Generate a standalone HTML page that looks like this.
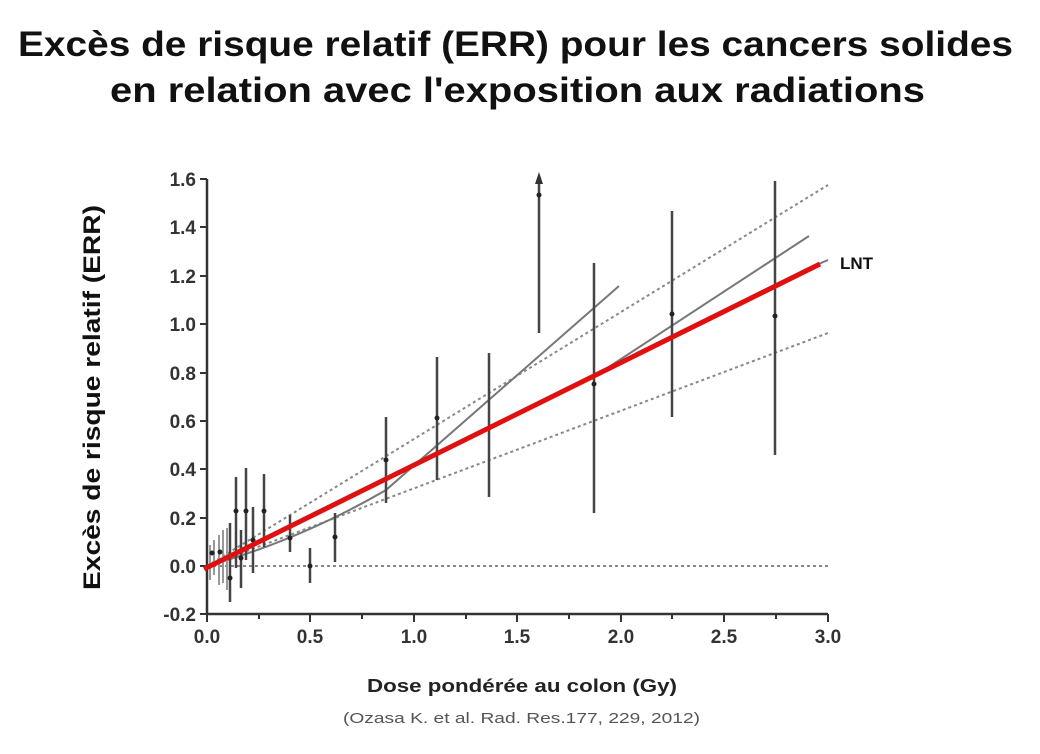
<!DOCTYPE html>
<html><head><meta charset="utf-8"><style>
body{margin:0;background:#fff;}
svg{display:block;font-family:"Liberation Sans",Arial,sans-serif;}
</style></head><body>
<svg width="1040" height="754" viewBox="0 0 1040 754">
<rect width="1040" height="754" fill="#fff"/>
<text x="18" y="56" textLength="995" lengthAdjust="spacingAndGlyphs" font-size="35" font-weight="bold" fill="#111">Excès de risque relatif (ERR) pour les cancers solides</text>
<text x="110" y="102" textLength="815" lengthAdjust="spacingAndGlyphs" font-size="35" font-weight="bold" fill="#111">en relation avec l'exposition aux radiations</text>
<text transform="translate(100,590) rotate(-90)" textLength="385" lengthAdjust="spacingAndGlyphs" font-size="24" font-weight="bold" fill="#111">Excès de risque relatif (ERR)</text>
<text x="367" y="692" textLength="310" lengthAdjust="spacingAndGlyphs" font-size="18" font-weight="bold" fill="#222">Dose pondérée au colon (Gy)</text>
<text x="343" y="723" textLength="357" lengthAdjust="spacingAndGlyphs" font-size="15" fill="#555">(Ozasa K. et al. Rad. Res.177, 229, 2012)</text>
<g stroke="#333" stroke-width="2.5" fill="none">
<line x1="207" y1="179" x2="207" y2="614"/>
<line x1="206" y1="614" x2="828" y2="614"/>
</g>
<g stroke="#333" stroke-width="2">
<line x1="200" y1="179" x2="207" y2="179"/><line x1="200" y1="227" x2="207" y2="227"/><line x1="200" y1="276" x2="207" y2="276"/><line x1="200" y1="324" x2="207" y2="324"/><line x1="200" y1="373" x2="207" y2="373"/><line x1="200" y1="421" x2="207" y2="421"/><line x1="200" y1="469" x2="207" y2="469"/><line x1="200" y1="518" x2="207" y2="518"/><line x1="200" y1="566" x2="207" y2="566"/><line x1="200" y1="614" x2="207" y2="614"/>
<line x1="207" y1="614" x2="207" y2="622"/><line x1="310" y1="614" x2="310" y2="622"/><line x1="414" y1="614" x2="414" y2="622"/><line x1="517" y1="614" x2="517" y2="622"/><line x1="621" y1="614" x2="621" y2="622"/><line x1="724" y1="614" x2="724" y2="622"/><line x1="828" y1="614" x2="828" y2="622"/>
<line x1="259" y1="614" x2="259" y2="619"/><line x1="362" y1="614" x2="362" y2="619"/><line x1="466" y1="614" x2="466" y2="619"/><line x1="569" y1="614" x2="569" y2="619"/><line x1="672" y1="614" x2="672" y2="619"/><line x1="776" y1="614" x2="776" y2="619"/>
</g>
<g font-size="19" font-weight="bold" fill="#333" text-anchor="end">
<text x="196" y="186">1.6</text><text x="196" y="234">1.4</text><text x="196" y="283">1.2</text><text x="196" y="331">1.0</text><text x="196" y="380">0.8</text><text x="196" y="428">0.6</text><text x="196" y="476">0.4</text><text x="196" y="525">0.2</text><text x="196" y="573">0.0</text><text x="196" y="621">-0.2</text>
</g>
<g font-size="19" font-weight="bold" fill="#333" text-anchor="middle">
<text x="207" y="643">0.0</text><text x="310" y="643">0.5</text><text x="414" y="643">1.0</text><text x="517" y="643">1.5</text><text x="621" y="643">2.0</text><text x="724" y="643">2.5</text><text x="828" y="643">3.0</text>
</g>
<g stroke="#888" stroke-width="2" stroke-dasharray="3,3" fill="none">
<line x1="207" y1="566" x2="828" y2="566"/>
<line x1="207" y1="566" x2="828" y2="185"/>
<line x1="207" y1="566" x2="828" y2="333"/>
</g>
<g stroke="#777" stroke-width="2" fill="none">
<path d="M207,566 Q300,540 386,490 L619,286"/>
<path d="M207,566 L595,376 L809,236"/>
<line x1="800" y1="272" x2="828" y2="260"/>
</g>
<g stroke="#444" stroke-width="2.5">
<line x1="236" y1="477" x2="236" y2="568"/>
<line x1="246" y1="468" x2="246" y2="560"/>
<line x1="230" y1="523" x2="230" y2="602"/>
<line x1="241" y1="530" x2="241" y2="588"/>
<line x1="253" y1="507" x2="253" y2="573"/>
<line x1="264" y1="474" x2="264" y2="547"/>
<line x1="290" y1="515" x2="290" y2="552"/>
<line x1="310" y1="548" x2="310" y2="583"/>
<line x1="335" y1="513" x2="335" y2="562"/>
<line x1="386" y1="417" x2="386" y2="503"/>
<line x1="437" y1="357" x2="437" y2="480"/>
<line x1="489" y1="353" x2="489" y2="497"/>
<line x1="539" y1="180" x2="539" y2="333"/>
<line x1="594" y1="263" x2="594" y2="513"/>
<line x1="672" y1="211" x2="672" y2="417"/>
<line x1="775" y1="181" x2="775" y2="455"/>
</g>
<g stroke="#999" stroke-width="2">
<line x1="210" y1="545" x2="210" y2="580"/><line x1="214" y1="540" x2="214" y2="575"/><line x1="219" y1="535" x2="219" y2="585"/><line x1="223" y1="530" x2="223" y2="583"/><line x1="227" y1="528" x2="227" y2="590"/>
</g>
<polygon points="535,184 539,172 543,184" fill="#333"/>
<g fill="#222">
<circle cx="236" cy="511" r="2.5"/><circle cx="246" cy="511" r="2.5"/><circle cx="230" cy="578" r="2.5"/><circle cx="241" cy="558" r="2.5"/><circle cx="253" cy="540" r="2.5"/><circle cx="264" cy="511" r="2.5"/><circle cx="290" cy="538" r="2.5"/><circle cx="310" cy="566" r="2.5"/><circle cx="335" cy="537" r="2.5"/><circle cx="386" cy="460" r="2.5"/><circle cx="437" cy="418" r="2.5"/><circle cx="489" cy="428" r="2.5"/><circle cx="539" cy="195" r="2.5"/><circle cx="594" cy="384" r="2.5"/><circle cx="672" cy="314" r="2.5"/><circle cx="775" cy="316" r="2.5"/><circle cx="212" cy="553" r="2.5"/><circle cx="220" cy="552" r="2.5"/>
</g>
<line x1="204" y1="569" x2="820" y2="264" stroke="#e01010" stroke-width="5"/>
<text x="840" y="269" font-size="17" font-weight="bold" fill="#111">LNT</text>
</svg>
</body></html>
